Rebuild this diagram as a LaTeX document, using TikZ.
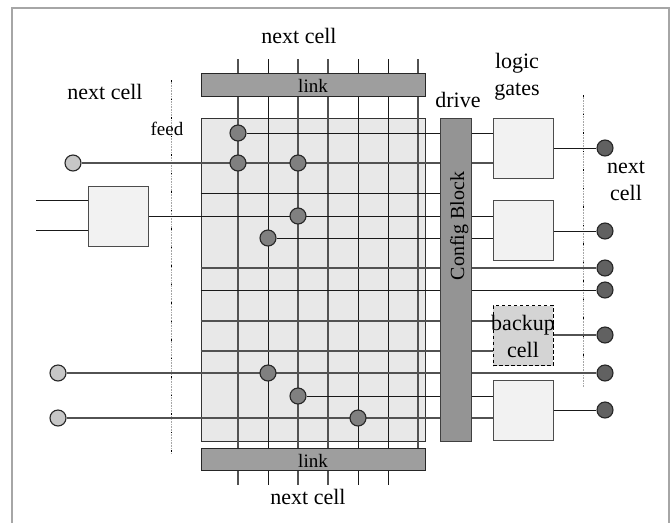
\documentclass[tikz,border=0pt]{standalone}
\usepackage{fontspec}
\setmainfont{Liberation Serif}
\pgfdeclarelayer{under}
\pgfdeclarelayer{wires}
\pgfsetlayers{under,wires,main}
\tikzset{
  x=1pt,y=-1pt,
  wire/.style={line width=.9pt,draw=black!90},
  wiregray/.style={line width=1.25pt,draw=black!68},
  box/.style={draw=black!70,line width=1.1pt,inner sep=0pt,anchor=north west},
  gatebox/.style={box,fill=black!5,minimum width=60pt,minimum height=60pt},
  sparebox/.style={gatebox,fill=black!17,draw=black,dash pattern=on 3.5pt off 2.5pt},
  bar/.style={draw=black!85,line width=1pt,fill=black!38,inner sep=0pt,anchor=north west},
  dotbase/.style={circle,draw=black!85,line width=1.1pt,minimum size=16pt,inner sep=0pt},
  griddot/.style={dotbase,fill=black!50},
  indot/.style={dotbase,fill=black!22},
  outdot/.style={dotbase,fill=black!62},
  txt/.style={inner sep=0pt,anchor=base,font=\fontsize{22}{27}\selectfont,align=center},
  smalltxt/.style={txt,font=\fontsize{19}{23}\selectfont},
  boundary/.style={line width=1pt,draw=black!35,dash pattern=on 1pt off .6pt},
  boundarymark/.style={line width=1pt,draw=black,dash pattern=on 1.5pt off 17pt},
}
\begin{document}
\begin{tikzpicture}
\useasboundingbox (0,0) rectangle (672,523);
\begin{pgfonlayer}{under}
\fill[white] (0,0) rectangle (672,523);
\draw[line width=1.2pt,draw=black!35] (12,523) -- (12,8) -- (669,8) -- (669,523);
\node[box,draw=black!80,line width=1pt,fill=black!9,minimum width=224.5pt,minimum height=323pt] (panel) at (200.5,118) {};
\end{pgfonlayer}

% blocks and pads
\node[griddot] (d1) at (238,133) {};
\node[griddot] (d2) at (238,163) {};
\node[griddot] (d3) at (298,163) {};
\node[griddot] (d4) at (298,216) {};
\node[griddot] (d5) at (268,238) {};
\node[griddot] (d6) at (268,373) {};
\node[griddot] (d7) at (298,396) {};
\node[griddot] (d8) at (358,418) {};
\node[indot] (in1) at (73,163) {};
\node[indot] (in2) at (58,373) {};
\node[indot] (in3) at (58,418) {};
\node[outdot] (o1) at (605,148) {};
\node[outdot] (o2) at (605,231) {};
\node[outdot] (o3) at (605,268) {};
\node[outdot] (o4) at (605,290) {};
\node[outdot] (o5) at (605,335) {};
\node[outdot] (o6) at (605,373) {};
\node[outdot] (o7) at (605,410) {};
\node[gatebox] (inbox) at (88,186) {};
\node[gatebox] (g1) at (492.5,118) {};
\node[gatebox] (g2) at (492.5,200) {};
\node[sparebox] (g3) at (492.5,305) {};
\node[gatebox] (g4) at (492.5,380) {};
\node[bar,minimum width=224.5pt,minimum height=23pt] (ltop) at (200.5,73) {};
\node[bar,minimum width=224.5pt,minimum height=22pt] (lbot) at (200.5,448) {};
\node[bar,draw=black!75,fill=black!42,minimum width=31pt,minimum height=323pt] (cfg) at (440,118) {};

\begin{pgfonlayer}{wires}
% boundaries
\coordinate (fa) at (171,80); \coordinate (fb) at (171,453);
\coordinate (ga) at (583,95); \coordinate (gb) at (583,387);
\draw[boundary] (fa) -- (fb);
\draw[boundarymark] (fa) -- (fb);
\draw[boundary] (ga) -- (gb);
\draw[boundarymark] (ga) -- (gb);

% vertical wires
\foreach \n/\xx/\st in {1/238/wiregray,2/268/wire,3/298/wiregray,4/328/wiregray,5/358/wire,6/388/wire}{
  \coordinate (vt\n) at (\xx,59);
  \coordinate (vb\n) at (\xx,485);
  \draw[\st] (vt\n) -- (vb\n);
}
\coordinate (vt7) at (418,59);
\draw[wiregray] (vt7) -- (vt7 |- lbot.north);

% horizontal wires
\coordinate (h3) at (200.5,193);
\coordinate (h6) at (200.5,268);
\coordinate (h7) at (200.5,290);
\coordinate (h8) at (200.5,321);
\coordinate (h9) at (200.5,351);
\coordinate (s1) at (36,200);
\coordinate (s2) at (36,230);
\coordinate (ic) at (148,216);
\draw[wire] (d1) -- (d1 -| g1.west);
\draw[wiregray] (in1) -- (in1 -| g1.west);
\draw[wire] (h3) -- (h3 -| cfg.center);
\draw[wire] (ic) -- (ic -| g2.west);
\draw[wire] (d5) -- (d5 -| g2.west);
\draw[wiregray] (h6) -- (o3);
\draw[wire] (h7) -- (o4);
\draw[wiregray] (h8) -- (h8 -| g3.west);
\draw[wiregray] (h9) -- (h9 -| g3.west);
\draw[wiregray] (in2) -- (o6);
\draw[wire] (d7) -- (d7 -| g4.west);
\draw[wiregray] (in3) -- (in3 -| g4.west);
\draw[wire] (s1) -- (s1 -| inbox.west);
\draw[wire] (s2) -- (s2 -| inbox.west);
\draw[wire] (g1.east |- o1) -- (o1);
\draw[wire] (g2.east |- o2) -- (o2);
\draw[wiregray] (g3.east |- o5) -- (o5);
\draw[wire] (g4.east |- o7) -- (o7);
\end{pgfonlayer}

% text
\node[txt] (t1) at (299,43) {next cell};
\node[txt] (t2) at (105,99) {next cell};
\node[smalltxt] (t3) at (167,135) {feed};
\node[smalltxt] (t4) at (313,92) {link};
\node[smalltxt] (t5) at (313,467) {link};
\node[txt] (t6) at (308,504) {next cell};
\node[txt] (t7) at (458,107) {drive};
\node[txt,anchor=center] (t8) at (517,77) {logic\\gates};
\node[txt,anchor=center] (t9) at (626,181) {next\\cell};
\node[txt,anchor=center] (t10) at (523,336) {backup\\cell};
\node[smalltxt,rotate=90,font=\fontsize{20}{24}\selectfont] (t11) at (464,226) {Config Block};
\end{tikzpicture}
\end{document}
